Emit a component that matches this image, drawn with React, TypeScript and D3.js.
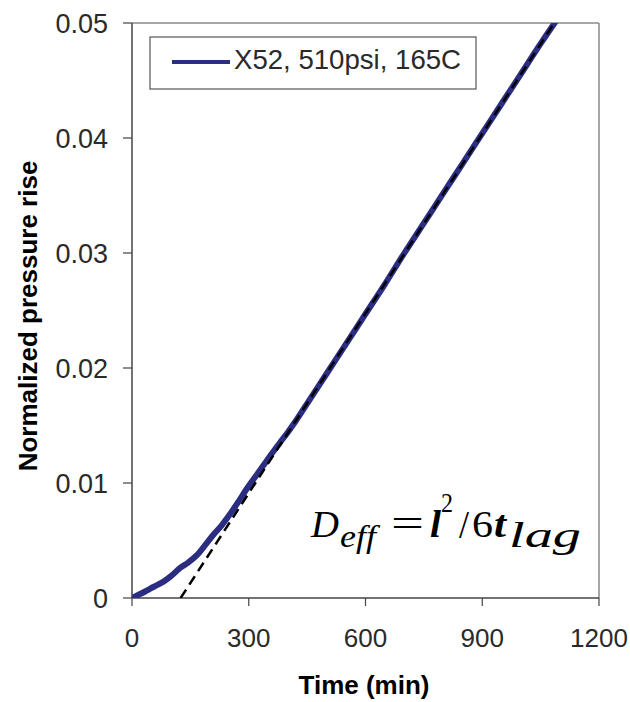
import React from "react";
import * as d3 from "d3";

const timeMin = [0, 12, 30, 46, 63, 80, 100, 123, 145, 166, 188, 209, 230, 252, 274, 295, 316, 337, 358, 380, 400, 419, 450, 500, 550, 600, 650, 700, 750, 800, 850, 900, 950, 1000, 1050, 1092];
const pressureRise = [0, 0.0002, 0.0005, 0.0008, 0.0011, 0.0014, 0.0019, 0.0026, 0.0031, 0.0037, 0.0046, 0.0055, 0.0063, 0.0073, 0.0084, 0.0095, 0.0105, 0.0115, 0.0125, 0.0135, 0.0144, 0.0153, 0.0169, 0.0195, 0.0221, 0.0247, 0.0273, 0.0300, 0.0326, 0.0352, 0.0378, 0.0404, 0.0430, 0.0456, 0.0482, 0.0503];
const fitTime = [125, 1085];
const fitValue = [0, 0.05];
const xTicks = [0, 300, 600, 900, 1200];
const yTicks = [0, 0.01, 0.02, 0.03, 0.04, 0.05];
const yTickLabels = ["0", "0.01", "0.02", "0.03", "0.04", "0.05"];
const seriesName = "X52, 510psi, 165C";

export default function App() {
  const W = 630, H = 702;
  const left = 132, right = 599, top = 23, bottom = 598;
  const x = d3.scaleLinear().domain([0, 1200]).range([left, right]);
  const y = d3.scaleLinear().domain([0, 0.05]).range([bottom, top]);
  const line = d3.line<[number, number]>().x(d => x(d[0])).y(d => y(d[1])).curve(d3.curveMonotoneX);
  const curve = timeMin.map((t, i) => [t, pressureRise[i]] as [number, number]);
  const fit = fitTime.map((t, i) => [t, fitValue[i]] as [number, number]);
  const font = "'Liberation Sans', Arial, sans-serif";
  const serif = "'Liberation Serif', 'Times New Roman', serif";
  const eq = [
    { s: "D", x: 311, w: 28, y: 537, fs: 38, it: true, b: false },
    { s: "eff", x: 340, w: 36, y: 547, fs: 31, it: true, b: false },
    { s: "=", x: 391, w: 33, y: 536, fs: 38, it: false, b: false },
    { s: "l", x: 430, w: 11, y: 537, fs: 38, it: true, b: true },
    { s: "2", x: 441, w: 12, y: 512, fs: 27, it: false, b: false },
    { s: "/", x: 459, w: 10, y: 538, fs: 40, it: false, b: false },
    { s: "6", x: 472, w: 21, y: 537, fs: 38, it: false, b: false },
    { s: "t", x: 494, w: 12, y: 537, fs: 38, it: true, b: true },
    { s: "lag", x: 509, w: 72, y: 547, fs: 35, it: true, b: false },
  ];
  return (
    <svg width={W} height={H} style={{ position: "absolute", left: 0, top: 0, background: "#fff" }}>
      <defs>
        <clipPath id="plotclip">
          <rect x={left} y={top} width={right - left} height={bottom - top} />
        </clipPath>
      </defs>
      <line x1={left} x2={right} y1={top} y2={top} stroke="#888" strokeWidth={1.5} />
      <line x1={right} x2={right} y1={top} y2={bottom} stroke="#888" strokeWidth={1.5} />
      <line x1={left} x2={left} y1={top} y2={bottom} stroke="#444" strokeWidth={1.5} />
      <line x1={left} x2={right} y1={bottom} y2={bottom} stroke="#444" strokeWidth={1.5} />
      {yTicks.map((v, i) => (
        <g key={"y" + i}>
          <line x1={left - 9} x2={left} y1={y(v)} y2={y(v)} stroke="#444" strokeWidth={1.2} />
          <text x={108} y={y(v)} dy="0.36em" textAnchor="end" fontFamily={font} fontSize={27} fill="#2a2a2a">{yTickLabels[i]}</text>
        </g>
      ))}
      {xTicks.map((v, i) => (
        <g key={"x" + i}>
          <line x1={x(v)} x2={x(v)} y1={bottom} y2={bottom + 8} stroke="#444" strokeWidth={1.2} />
          <text x={x(v)} y={647} textAnchor="middle" fontFamily={font} fontSize={26} fill="#2a2a2a">{String(v)}</text>
        </g>
      ))}
      <g clipPath="url(#plotclip)">
        <path d={line(curve) || ""} fill="none" stroke="#2b2d80" strokeWidth={6} strokeLinejoin="round" strokeLinecap="round" />
        <path d={line(fit) || ""} fill="none" stroke="#000" strokeWidth={2.5} strokeDasharray="10,6" />
      </g>
      <rect x={150} y={37} width={326} height={52} fill="#fff" stroke="#555" strokeWidth={1.2} />
      <line x1={172} x2={230} y1={62} y2={62} stroke="#2b2d80" strokeWidth={4} />
      <text x={234} y={69} fontFamily={font} fontSize={27.6} fill="#2a2a2a">{seriesName}</text>
      {eq.map((p, i) => (
        <text key={"eq" + i} x={p.x} y={p.y} textLength={p.w} lengthAdjust="spacingAndGlyphs"
          fontFamily={serif} fontStyle={p.it ? "italic" : "normal"} fontWeight={p.b ? "bold" : "normal"}
          fontSize={p.fs} fill="#000">{p.s}</text>
      ))}
      <text x={364} y={694} textAnchor="middle" fontFamily={font} fontWeight="bold" fontSize={26} fill="#000">Time (min)</text>
      <text transform="translate(37,316) rotate(-90)" textAnchor="middle" fontFamily={font} fontWeight="bold" fontSize={26} fill="#000">Normalized pressure rise</text>
    </svg>
  );
}
